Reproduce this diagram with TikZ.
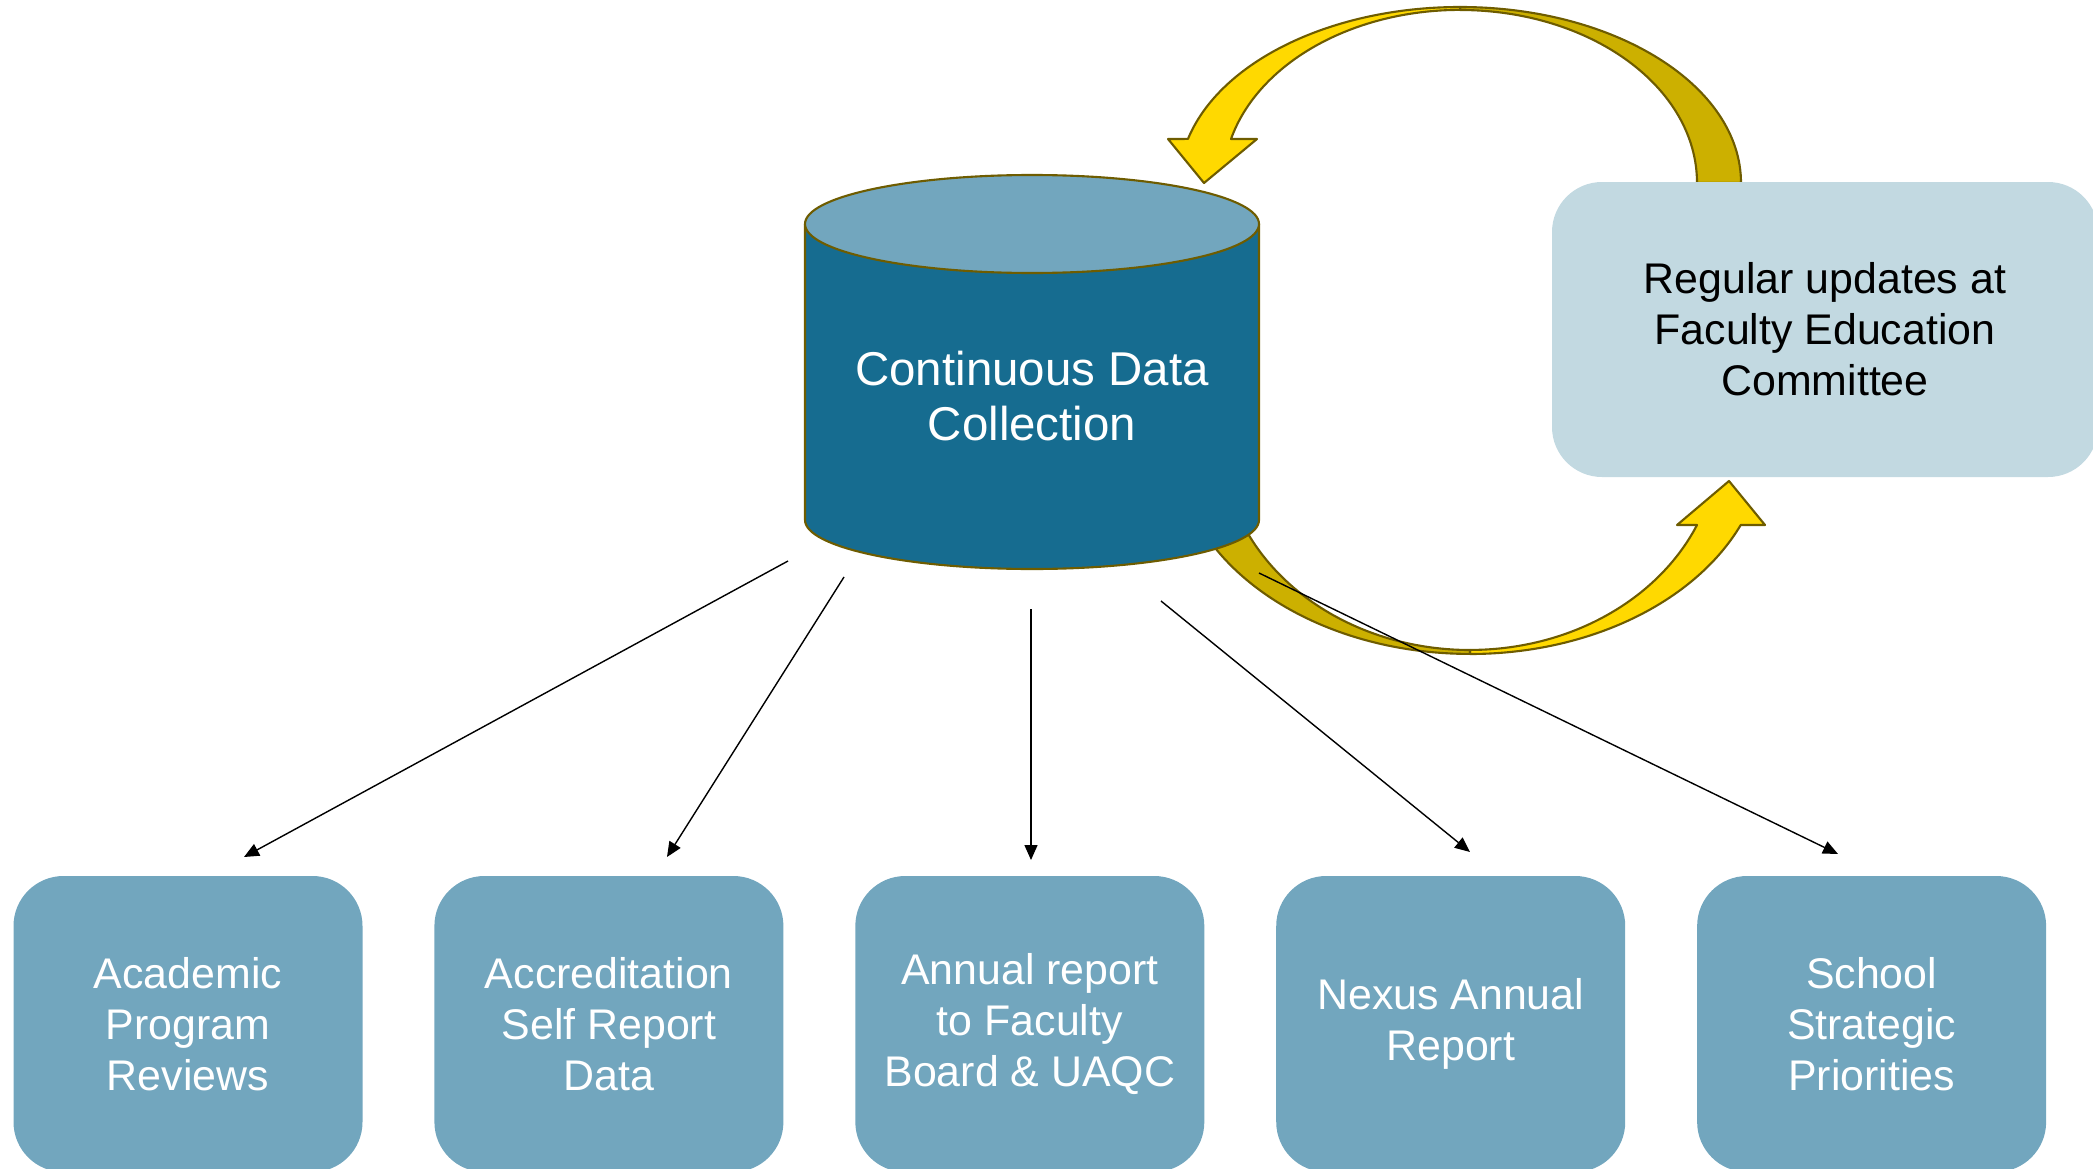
\documentclass[tikz,border=0pt]{standalone}
\usepackage{fontspec}
\setmainfont{Liberation Sans}
\usetikzlibrary{positioning,arrows.meta}

\definecolor{boxblue}{RGB}{114,166,190}
\definecolor{cylblue}{RGB}{22,108,144}
\definecolor{paleblue}{RGB}{194,217,225}
\definecolor{rimolive}{RGB}{110,92,0}
\definecolor{goldlight}{RGB}{255,217,0}
\definecolor{golddark}{RGB}{204,176,0}

\tikzset{
  rim/.style={draw=rimolive, line width=0.6pt, line join=round},
  outbox/.style={fill=boxblue, rounded corners=0.5cm, minimum width=3.49cm,
    minimum height=2.96cm, inner sep=0pt, align=center, text=white,
    font=\fontsize{12.2}{14.5}\selectfont},
  feed/.style={-{Triangle[length=0.15cm,width=0.13cm]}, line width=0.4pt},
}

\begin{document}
\begin{tikzpicture}
				%%%%% START %%%%%
				\useasboundingbox (0,0) rectangle (20.93,11.68);

				% lower loop, back half (runs under the cylinder)
				\draw[rim, fill=golddark] (11.80,6.88) arc[start angle=190.8, end angle=270, x radius=2.95, y radius=2.14] -- (14.70,5.18) arc[start angle=270, end angle=191, x radius=2.48, y radius=2.10] -- cycle;

				% cylinder
				\filldraw[rim, fill=cylblue] (8.05,9.44) -- (8.05,6.48) arc[start angle=180, end angle=360, x radius=2.27, y radius=0.49] -- (12.59,9.44) -- cycle;
				\filldraw[rim, fill=boxblue] (10.32,9.44) ellipse[x radius=2.27, y radius=0.49];
				\node[text=white, align=center, font=\fontsize{13.5}{15.9}\selectfont] (store) at (10.32,7.72) {Continuous Data\\Collection};

				% lower loop, front half with head
				\draw[rim, fill=goldlight] (14.70,5.14) arc[start angle=270, end angle=336.6, x radius=2.95, y radius=2.14] -- (17.65,6.43) -- (17.29,6.87) -- (16.77,6.43) -- (16.97,6.43) arc[start angle=336.1, end angle=270, x radius=2.48, y radius=2.10] -- cycle;

				% upper loop, back half
				\draw[rim, fill=golddark] (17.41,9.85) arc[start angle=0, end angle=90, x radius=2.81, y radius=1.76] -- (14.60,11.58) arc[start angle=90, end angle=0, x radius=2.37, y radius=1.73] -- cycle;

				% upper loop, front half with head
				\draw[rim, fill=goldlight] (14.60,11.61) arc[start angle=90, end angle=165.5, x radius=2.81, y radius=1.76] -- (11.68,10.29) -- (12.04,9.85) -- (12.57,10.29) -- (12.31,10.29) arc[start angle=165.3, end angle=90, x radius=2.37, y radius=1.73] -- cycle;

				% committee
				\node[fill=paleblue, rounded corners=0.5cm, minimum width=5.46cm, minimum height=2.95cm, inner sep=0pt, align=center, font=\fontsize{12.2}{14.5}\selectfont] (fec) at (18.25,8.385) {Regular updates at\\Faculty Education\\Committee};

				% reports
				\node[outbox] (apr) at (1.88,1.44) {Academic\\Program\\Reviews};
				\node[outbox, right=0.705cm of apr] (asr) {Accreditation\\Self Report\\Data};
				\node[outbox, right=0.705cm of asr] (arf) {Annual report\\to Faculty\\Board \& UAQC};
				\node[outbox, right=0.705cm of arf] (nar) {Nexus Annual\\Report};
				\node[outbox, right=0.705cm of nar] (ssp) {School\\Strategic\\Priorities};

				% feeds
				\coordinate (s1) at (7.88,6.07);  \coordinate (t1) at (2.44,3.11);
				\coordinate (s2) at (8.44,5.91);  \coordinate (t2) at (6.67,3.11);
				\coordinate (s3) at (10.31,5.59); \coordinate (t3) at (10.31,3.08);
				\coordinate (s4) at (11.61,5.67); \coordinate (t4) at (14.70,3.16);
				\coordinate (s5) at (12.59,5.95); \coordinate (t5) at (18.38,3.14);
				\foreach \i in {1,...,5}
					\draw[feed] (s\i) -- (t\i);
				%%%%% END %%%%%
\end{tikzpicture}
\end{document}
